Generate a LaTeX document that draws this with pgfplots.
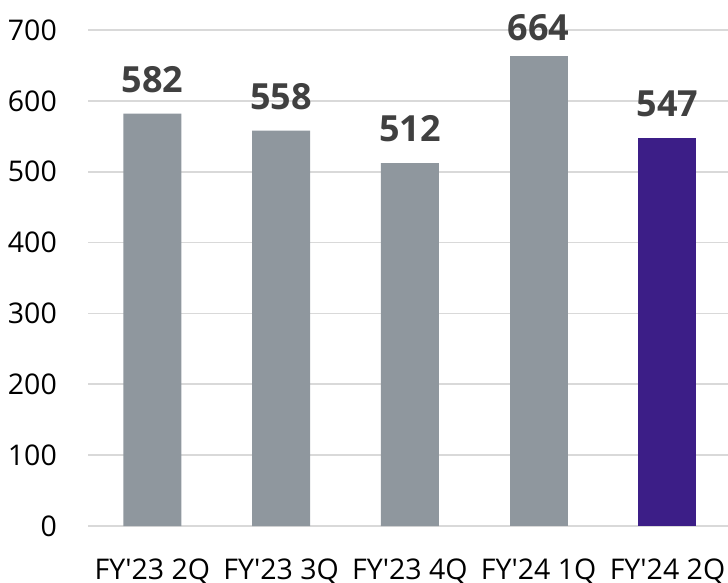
\documentclass[border=0pt]{standalone}
\usepackage{fontspec}
\setmainfont{Open Sans}
\usepackage{pgfplots}
\pgfplotsset{compat=1.18}
\definecolor{bargray}{HTML}{8F979E}
\definecolor{barpurple}{HTML}{3C1E87}
\definecolor{gridgray}{HTML}{D9D9D9}
\definecolor{labeltext}{HTML}{404040}
\begin{document}
\begin{tikzpicture}
\useasboundingbox (0,0) rectangle (728pt,582pt);
\begin{axis}[
    at={(88pt,56pt)}, anchor=south west,
    scale only axis,
    width=640pt, height=496pt,
    xmin=-0.5, xmax=4.47,
    ymin=0, ymax=700,
    axis line style={draw=none},
    ytick={0,100,...,700},
    xtick={0,1,2,3,4},
    xticklabels={FY\textquotesingle23 2Q, FY\textquotesingle23 3Q, FY\textquotesingle23 4Q, FY\textquotesingle24 1Q, FY\textquotesingle24 2Q},
    major tick length=0pt,
    ymajorgrids,
    grid style={gridgray, line width=1.6pt},
    /pgf/number format/assume math mode=true,
    tick label style={font=\fontsize{28.5}{33}\selectfont, text=black},
    yticklabel style={anchor=east, inner sep=0pt, xshift=-31pt},
    xticklabel style={anchor=north, inner sep=0pt, yshift=-33pt},
    ybar, bar width=58pt, bar shift=0pt,
    nodes near coords,
    every node near coord/.append style={font=\fontsize{36}{40}\selectfont\bfseries, text=labeltext, anchor=south, inner sep=0pt, yshift=21pt},
    clip=false,
]
\addplot[fill=bargray, draw=none] coordinates {(0,582) (1,558) (2,512)};
\addplot[fill=bargray, draw=none, every node near coord/.append style={yshift=-7pt}] coordinates {(3,664)};
\addplot[fill=barpurple, draw=none] coordinates {(4,547)};
\end{axis}
\end{tikzpicture}
\end{document}
